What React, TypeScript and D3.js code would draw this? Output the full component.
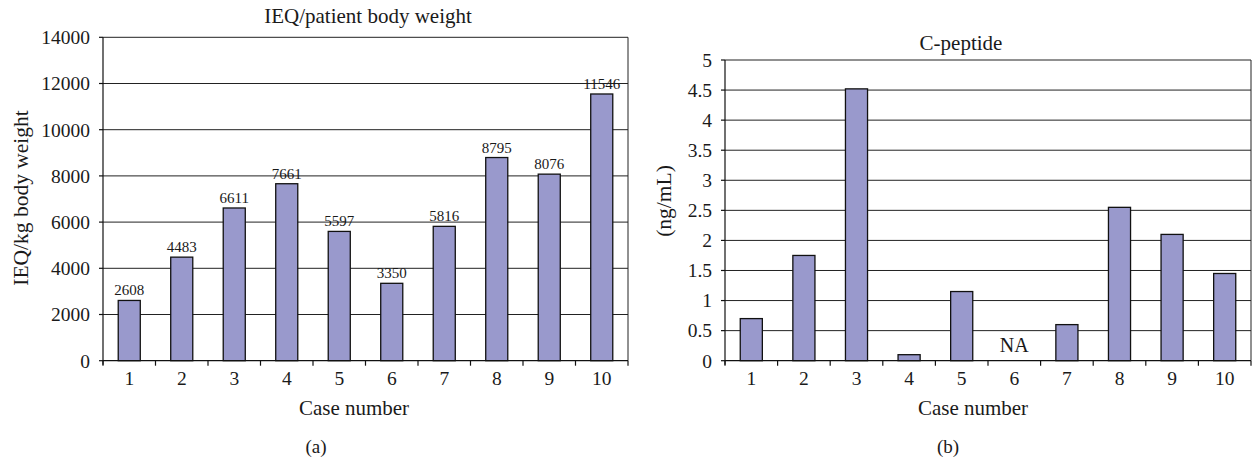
import React from 'react';
import * as d3 from 'd3';

// chart data
const cases = ['1', '2', '3', '4', '5', '6', '7', '8', '9', '10'];
const ieqValues = [2608, 4483, 6611, 7661, 5597, 3350, 5816, 8795, 8076, 11546];
const cPeptideValues: (number | null)[] = [0.7, 1.75, 4.52, 0.1, 1.15, null, 0.6, 2.55, 2.1, 1.45];
const ieqTicks = [0, 2000, 4000, 6000, 8000, 10000, 12000, 14000];
const cPeptideTicks = [0, 0.5, 1, 1.5, 2, 2.5, 3, 3.5, 4, 4.5, 5];

const FONT = '"Liberation Serif", "Times New Roman", serif';
const BAR_FILL = '#9999cc';
const INK = '#1a1a1a';

interface PanelProps {
  left: number;
  right: number;
  top: number;
  bottom: number;
  values: (number | null)[];
  ticks: number[];
  maxY: number;
  title: string;
  titleX: number;
  titleY: number;
  yLabel: string;
  yLabelX: number;
  yLabelY: number;
  xTitleX: number;
  panelLabel: string;
  panelLabelX: number;
  showValues: boolean;
}

const Panel: React.FC<PanelProps> = (p) => {
  const x = d3.scaleBand<string>().domain(cases).range([p.left, p.right]).padding(0);
  const y = d3.scaleLinear().domain([0, p.maxY]).range([p.bottom, p.top]);
  const bw = x.bandwidth() * 0.42;
  const edges = d3.range(cases.length + 1).map(i => p.left + i * x.bandwidth());

  return (
    <g fontFamily={FONT} fill={INK}>
      {/* gridlines */}
      {p.ticks.filter(t => t > 0).map(t => (
        <line key={'g' + t} x1={p.left} x2={p.right} y1={y(t)} y2={y(t)} stroke="#222" strokeWidth={1} />
      ))}
      {/* right border */}
      <line x1={p.right} x2={p.right} y1={p.top} y2={p.bottom} stroke="#222" strokeWidth={1} />

      {/* bars */}
      {p.values.map((v, i) => v == null ? null : (
        <rect key={'b' + i}
          x={(x(cases[i]) ?? 0) + (x.bandwidth() - bw) / 2}
          y={y(v)}
          width={bw}
          height={p.bottom - y(v)}
          fill={BAR_FILL} stroke="#111" strokeWidth={1.3} />
      ))}
      {p.showValues && p.values.map((v, i) => v == null ? null : (
        <text key={'v' + i} x={(x(cases[i]) ?? 0) + x.bandwidth() / 2} y={y(v) - 5}
          textAnchor="middle" fontSize={15}>{v}</text>
      ))}
      {p.values.map((v, i) => v != null ? null : (
        <text key={'na' + i} x={(x(cases[i]) ?? 0) + x.bandwidth() / 2} y={p.bottom - 9}
          textAnchor="middle" fontSize={20}>NA</text>
      ))}

      {/* y axis */}
      <line x1={p.left} x2={p.left} y1={p.top} y2={p.bottom + 4} stroke="#111" strokeWidth={1.2} />
      {p.ticks.map(t => (
        <g key={'yt' + t}>
          <line x1={p.left - 4} x2={p.left} y1={y(t)} y2={y(t)} stroke="#111" strokeWidth={1.2} />
          <text x={p.left - 13} y={y(t)} dy="0.35em" textAnchor="end" fontSize={19.5}>{t}</text>
        </g>
      ))}

      {/* x axis */}
      <line x1={p.left} x2={p.right} y1={p.bottom} y2={p.bottom} stroke="#111" strokeWidth={1.2} />
      {edges.map((e, i) => (
        <line key={'xt' + i} x1={e} x2={e} y1={p.bottom} y2={p.bottom + 5} stroke="#111" strokeWidth={1.2} />
      ))}
      {cases.map(c => (
        <text key={'xl' + c} x={(x(c) ?? 0) + x.bandwidth() / 2} y={385} textAnchor="middle" fontSize={19.5}>{c}</text>
      ))}

      {/* titles */}
      <text x={p.titleX} y={p.titleY} textAnchor="middle" fontSize={21}>{p.title}</text>
      <text x={p.xTitleX} y={415} textAnchor="middle" fontSize={21}>Case number</text>
      <text transform={`translate(${p.yLabelX},${p.yLabelY}) rotate(-90)`} textAnchor="middle" fontSize={21.5}>{p.yLabel}</text>
      <text x={p.panelLabelX} y={453} textAnchor="middle" fontSize={19}>{p.panelLabel}</text>
    </g>
  );
};

const App: React.FC = () => {
  return (
    <svg width={1254} height={462} viewBox="0 0 1254 462"
      style={{ position: 'absolute', left: 0, top: 0, display: 'block', background: '#fff' }}>
      <rect width={1254} height={462} fill="#fff" />
      <Panel left={103} right={628} top={37.3} bottom={360.7}
        values={ieqValues} ticks={ieqTicks} maxY={14000}
        title="IEQ/patient body weight" titleX={368} titleY={23}
        yLabel="IEQ/kg body weight" yLabelX={28} yLabelY={198}
        xTitleX={354} panelLabel="(a)" panelLabelX={316} showValues={true} />
      <Panel left={725} right={1251} top={60} bottom={360.7}
        values={cPeptideValues} ticks={cPeptideTicks} maxY={5}
        title="C-peptide" titleX={961} titleY={50}
        yLabel="(ng/mL)" yLabelX={671} yLabelY={201}
        xTitleX={973} panelLabel="(b)" panelLabelX={948} showValues={false} />
    </svg>
  );
};

export default App;
